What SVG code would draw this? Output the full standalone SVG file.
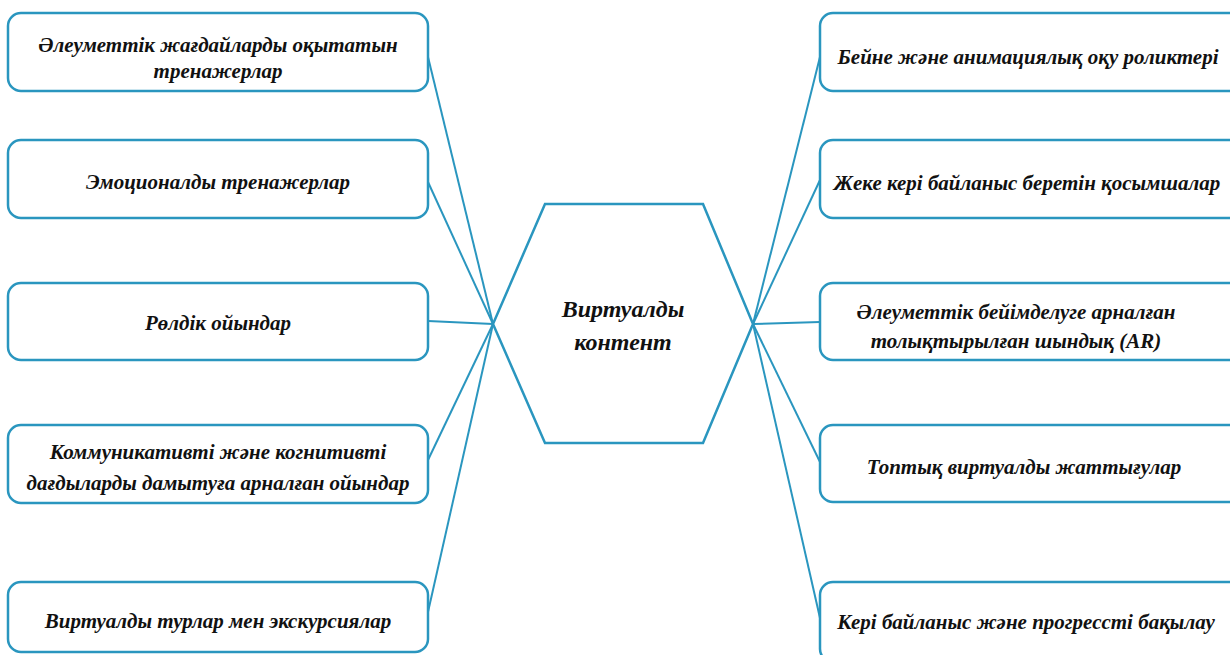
<svg xmlns="http://www.w3.org/2000/svg" width="1230" height="655" viewBox="0 0 1230 655">
<style>
.box{fill:#fff;stroke:#2a96bf;stroke-width:2.5}
.hex{fill:#fff;stroke:#2a96bf;stroke-width:2.5}
.ln{stroke:#2a96bf;stroke-width:2;fill:none}
</style>
<rect width="1230" height="655" fill="#fff"/>
<g id="connectors">
<line class="ln" x1="428" y1="57" x2="493" y2="324"/>
<line class="ln" x1="428" y1="182" x2="493" y2="324"/>
<line class="ln" x1="428" y1="321" x2="493" y2="324"/>
<line class="ln" x1="428" y1="460" x2="493" y2="324"/>
<line class="ln" x1="428" y1="612" x2="493" y2="324"/>
<line class="ln" x1="820" y1="57" x2="753" y2="324"/>
<line class="ln" x1="820" y1="180" x2="753" y2="324"/>
<line class="ln" x1="820" y1="322" x2="753" y2="324"/>
<line class="ln" x1="820" y1="462" x2="753" y2="324"/>
<line class="ln" x1="820" y1="618" x2="753" y2="324"/>
</g>
<g font-family="'Liberation Serif', 'DejaVu Serif', serif" font-style="italic" font-weight="bold" font-size="21" fill="#111" text-anchor="middle">
<g id="center">
<polygon class="hex" points="545,204 703,204 753,324 703,443 545,443 493,324"/>
<text font-size="24" x="623" y="317">Виртуалды</text>
<text font-size="24" x="623" y="350">контент</text>
</g>
<g id="l1"><rect class="box" x="8" y="13" width="420" height="78" rx="13"/>
<text x="218" y="52">Әлеуметтік жағдайларды оқытатын</text><text x="218" y="78">тренажерлар</text></g>
<g id="l2"><rect class="box" x="8" y="140" width="420" height="78" rx="13"/>
<text x="218" y="189">Эмоционалды тренажерлар</text></g>
<g id="l3"><rect class="box" x="8" y="283" width="420" height="77" rx="13"/>
<text x="218" y="330">Рөлдік ойындар</text></g>
<g id="l4"><rect class="box" x="8" y="425" width="420" height="78" rx="13"/>
<text x="218" y="459">Коммуникативті және когнитивті</text><text x="218" y="490">дағдыларды дамытуға арналған ойындар</text></g>
<g id="l5"><rect class="box" x="8" y="582" width="420" height="70" rx="13"/>
<text x="218" y="628">Виртуалды турлар мен экскурсиялар</text></g>
<g id="r1"><rect class="box" x="820" y="13" width="425" height="78" rx="13"/>
<text x="1028" y="64">Бейне және анимациялық оқу роликтері</text></g>
<g id="r2"><rect class="box" x="820" y="140" width="425" height="78" rx="13"/>
<text x="1027" y="190">Жеке кері байланыс беретін қосымшалар</text></g>
<g id="r3"><rect class="box" x="820" y="283" width="425" height="77" rx="13"/>
<text x="1016" y="319">Әлеуметтік бейімделуге арналған</text><text x="1016" y="348">толықтырылған шындық (AR)</text></g>
<g id="r4"><rect class="box" x="820" y="425" width="425" height="77" rx="13"/>
<text x="1024" y="474">Топтық виртуалды жаттығулар</text></g>
<g id="r5"><rect class="box" x="820" y="582" width="425" height="80" rx="13"/>
<text x="1026" y="629">Кері байланыс және прогрессті бақылау</text></g>
</g>
</svg>
